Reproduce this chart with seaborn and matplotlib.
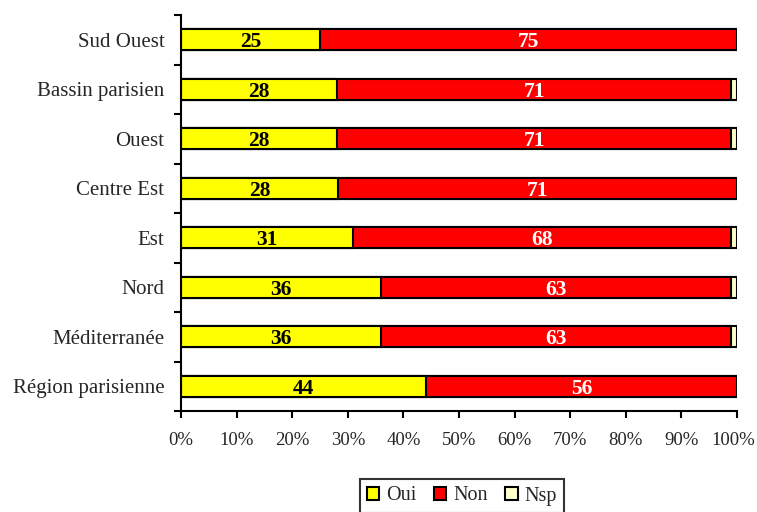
import matplotlib
matplotlib.use("Agg")
import matplotlib.pyplot as plt
import matplotlib.transforms as mtrans
import seaborn as sns
import pandas as pd
import numpy as np
from matplotlib.patches import Patch

regions = ["Sud Ouest", "Bassin parisien", "Ouest", "Centre Est", "Est",
           "Nord", "Méditerranée", "Région parisienne"]
oui = [25, 28, 28, 28, 31, 36, 36, 44]
non = [75, 71, 71, 71, 68, 63, 63, 56]
nsp = [0, 1, 1, 0, 1, 1, 1, 0]
series = ["Oui", "Non", "Nsp"]
colors = {"Oui": "#FFFF00", "Non": "#FF0000", "Nsp": "#FFFFCC"}

sns.set_theme(style="white")
plt.rcParams["font.family"] = ["Liberation Serif", "DejaVu Serif"]

tot = np.array(oui) + np.array(non) + np.array(nsp)
p_oui = np.array(oui) / tot * 100
p_non = np.array(non) / tot * 100
p_nsp = np.array(nsp) / tot * 100

df = pd.DataFrame({"region": regions,
                   "c3": p_oui + p_non + p_nsp,
                   "c2": p_oui + p_non,
                   "c1": p_oui})

fig = plt.figure(figsize=(7.57, 5.12), dpi=100)
ax = fig.add_axes([181/757, 1-411/512, (737-181)/757, (411-15)/512])

for col, s in [("c3", "Nsp"), ("c2", "Non"), ("c1", "Oui")]:
    sns.barplot(data=df, x=col, y="region", order=regions, orient="h",
                color=colors[s], saturation=1, width=0.42,
                edgecolor="black", linewidth=1.5, ax=ax)

for i in range(len(regions)):
    ax.text(p_oui[i] / 2, i, f"{oui[i]}", ha="center", va="center_baseline",
            fontsize=15.5, fontweight="bold", color="black")
    ax.text(p_oui[i] + p_non[i] / 2, i, f"{non[i]}", ha="center", va="center_baseline",
            fontsize=15.5, fontweight="bold", color="white")

ax.set_xlim(0, 100)
ax.set_ylim(len(regions) - 0.5, -0.5)
ax.set_xlabel("")
ax.set_ylabel("")
ax.set_xticks(np.arange(0, 101, 10))
ax.set_xticklabels([f"{v}%" for v in range(0, 101, 10)], fontsize=13.5)
ax.set_yticks(np.arange(-0.5, len(regions), 1.0))
ax.set_yticklabels([])
ax.set_yticks(np.arange(len(regions)), minor=True)
ax.set_yticklabels(regions, minor=True, fontsize=15)
ax.tick_params(axis="y", which="major", direction="out", length=5, width=1.5, color="black", left=True)
ax.tick_params(axis="y", which="minor", length=0, pad=12, left=True)
ax.tick_params(axis="x", direction="out", length=5, width=1.5, color="black", bottom=True, pad=10)

last = ax.get_xticklabels()[-1]
last.set_transform(last.get_transform() + mtrans.ScaledTranslation(-4/100, 0, fig.dpi_scale_trans))

for sp in ["top", "right"]:
    ax.spines[sp].set_visible(False)
for sp in ["left", "bottom"]:
    ax.spines[sp].set_color("black")
    ax.spines[sp].set_linewidth(1.5)

handles = [Patch(facecolor=colors[s], edgecolor="black", linewidth=1.5, label=s) for s in series]
leg = fig.legend(handles=handles, loc="center", bbox_to_anchor=(462/757, 1-496/512),
                 ncol=3, frameon=True, fancybox=False, fontsize=14.5,
                 handlelength=0.62, handleheight=0.62, handletextpad=0.35,
                 columnspacing=0.85, borderpad=0.35, edgecolor="black")
leg.get_frame().set_linewidth(1.5)

fig.savefig("out.png", dpi=100)
